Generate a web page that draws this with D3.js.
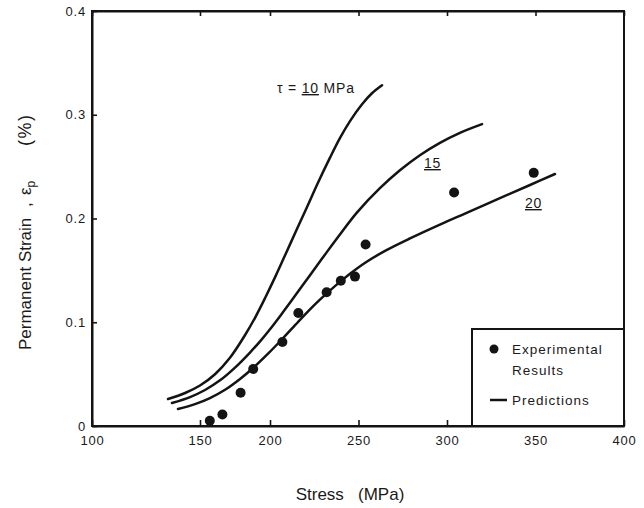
<!DOCTYPE html>
<html>
<head>
<meta charset="utf-8">
<script src="https://cdn.jsdelivr.net/npm/d3@7"></script>
<style>
  html, body { margin: 0; padding: 0; background: #fff; }
  svg { display: block; font-family: "Liberation Sans", Arial, Helvetica, sans-serif; }
  text { fill: #1a1a1a; }
</style>
</head>
<body>
<svg id="chart" width="644" height="508"></svg>
<script>
// ---- data ----
const xTicks = [100, 150, 200, 250, 300, 350, 400];
const xTickLabels = ["100", "150", "200", "250", "300", "350", "400"];
const yTicks = [0, 0.1, 0.2, 0.3, 0.4];
const yTickLabels = ["0", "0.1", "0.2", "0.3", "0.4"];

// experimental results (stress MPa, permanent strain %)
const expStress = [157, 166, 179, 188, 207, 216, 232, 240, 248, 254, 304, 349];
const expStrain = [0.005, 0.011, 0.032, 0.055, 0.081, 0.109, 0.129, 0.140, 0.144, 0.175, 0.225, 0.244];

// predictions, tau = 10 MPa
const pred10Stress = [135.2, 143.1, 150, 160.7, 171.4, 182.1, 189.3, 196.4, 203.4, 209.6, 215.8, 221.5, 227.1, 233.9, 239.5, 245.2, 252, 257.6, 263.3];
const pred10Strain = [0.026, 0.0318, 0.039, 0.0499, 0.0658, 0.0875, 0.1043, 0.1231, 0.1454, 0.1687, 0.192, 0.2133, 0.2345, 0.2587, 0.2775, 0.2939, 0.3101, 0.3207, 0.3284];
// tau = 15 MPa
const pred15Stress = [137, 145.4, 153.6, 164.3, 175, 185.7, 192.9, 200, 206.2, 212.4, 222.6, 231.1, 239.5, 249.2, 262.1, 273.4, 284.7, 296, 307.3, 319.8];
const pred15Strain = [0.0222, 0.0279, 0.0347, 0.044, 0.0563, 0.0708, 0.0816, 0.0933, 0.1071, 0.1214, 0.1454, 0.1653, 0.1846, 0.2059, 0.2292, 0.2465, 0.261, 0.2729, 0.2826, 0.291];
// tau = 20 MPa
const pred20Stress = [139.8, 147.7, 157.1, 167.9, 178.6, 187.9, 198.6, 206.8, 215.8, 222.6, 228.2, 236.7, 245.2, 254.2, 265, 279.1, 296, 313, 329.9, 346.9, 361];
const pred20Strain = [0.0164, 0.0211, 0.0269, 0.0349, 0.0453, 0.0559, 0.0697, 0.0836, 0.1002, 0.1124, 0.1218, 0.1348, 0.1467, 0.1578, 0.1688, 0.1808, 0.1941, 0.2068, 0.2196, 0.2323, 0.2429];

const seriesLabels = ["10", "15", "20"];
const legendLabels = ["Experimental", "Results", "Predictions"];

// ---- layout ----
const svg = d3.select("#chart");
const L = 92, R = 624, T = 11, B = 426;
// the scanned axis places its 150 tick off the even spacing; follow the printed ticks
const xBreak = [100, 150, 200, 400];
const xBreakFrac = [0, 0.203, 0.3346, 1];
const x = d3.scaleLinear().domain(xBreak).range(xBreakFrac.map(f => L + f * (R - L)));
const y = d3.scaleLinear().domain([0, 0.4]).range([B, T]);

const ink = "#141414";

// frame
svg.append("rect").attr("x", L).attr("y", T).attr("width", R - L).attr("height", B - T)
  .attr("fill", "none").attr("stroke", ink).attr("stroke-width", 2);

// bottom axis
const xAxis = d3.axisBottom(x).tickValues(xTicks).tickFormat((d, i) => xTickLabels[i])
  .tickSizeInner(-6).tickSizeOuter(0).tickPadding(10);
const gx = svg.append("g").attr("transform", `translate(0,${B})`).call(xAxis);
gx.select(".domain").attr("stroke", ink).attr("stroke-width", 2);
gx.selectAll(".tick line").attr("stroke", ink).attr("stroke-width", 1.6);
gx.selectAll(".tick text").attr("font-size", 13).attr("letter-spacing", 0.8).attr("fill", "#1a1a1a")
  .attr("font-family", "'Liberation Sans', Arial, sans-serif");

// top ticks
const xTop = d3.axisTop(x).tickValues(xTicks).tickFormat("").tickSizeInner(-5).tickSizeOuter(0);
const gt = svg.append("g").attr("transform", `translate(0,${T})`).call(xTop);
gt.select(".domain").attr("stroke", ink).attr("stroke-width", 2);
gt.selectAll(".tick line").attr("stroke", ink).attr("stroke-width", 1.6);

// left axis
const yAxis = d3.axisLeft(y).tickValues(yTicks).tickFormat((d, i) => yTickLabels[i])
  .tickSizeInner(-5).tickSizeOuter(0).tickPadding(6);
const gy = svg.append("g").attr("transform", `translate(${L},0)`).call(yAxis);
gy.select(".domain").attr("stroke", ink).attr("stroke-width", 2);
gy.selectAll(".tick line").attr("stroke", ink).attr("stroke-width", 1.6);
gy.selectAll(".tick text").attr("font-size", 13).attr("letter-spacing", 0.8).attr("fill", "#1a1a1a")
  .attr("font-family", "'Liberation Sans', Arial, sans-serif");

// prediction curves
const line = d3.line().x(d => x(d[0])).y(d => y(d[1])).curve(d3.curveCatmullRom.alpha(0.5));
const curves = [
  d3.zip(pred10Stress, pred10Strain),
  d3.zip(pred15Stress, pred15Strain),
  d3.zip(pred20Stress, pred20Strain)
];
svg.append("g").selectAll("path").data(curves).join("path")
  .attr("d", line).attr("fill", "none").attr("stroke", ink)
  .attr("stroke-width", 2.5).attr("stroke-linecap", "round");

// experimental points
svg.append("g").selectAll("circle").data(d3.zip(expStress, expStrain)).join("circle")
  .attr("cx", d => x(d[0])).attr("cy", d => y(d[1])).attr("r", 5).attr("fill", ink);

// curve labels
const lab10 = svg.append("text").attr("x", 277).attr("y", 93).attr("font-size", 14).attr("letter-spacing", 0.8);
lab10.append("tspan").text("τ = ");
lab10.append("tspan").attr("text-decoration", "underline").text(seriesLabels[0]);
lab10.append("tspan").text(" MPa");

svg.append("text").attr("x", 424).attr("y", 168).attr("font-size", 14).attr("letter-spacing", 0.6)
  .attr("text-decoration", "underline").text(seriesLabels[1]);
svg.append("text").attr("x", 525).attr("y", 208).attr("font-size", 14).attr("letter-spacing", 0.6)
  .attr("text-decoration", "underline").text(seriesLabels[2]);

// legend
const lg = svg.append("g");
lg.append("rect").attr("x", 472).attr("y", 329).attr("width", R - 472).attr("height", B - 329)
  .attr("fill", "#fff").attr("stroke", ink).attr("stroke-width", 2);
lg.append("circle").attr("cx", 494).attr("cy", 349).attr("r", 4.5).attr("fill", ink);
lg.append("text").attr("x", 512).attr("y", 354).attr("font-size", 13.5).attr("letter-spacing", 1).text(legendLabels[0]);
lg.append("text").attr("x", 512).attr("y", 375).attr("font-size", 13.5).attr("letter-spacing", 1).text(legendLabels[1]);
lg.append("line").attr("x1", 490).attr("x2", 507).attr("y1", 400).attr("y2", 400).attr("stroke", ink).attr("stroke-width", 2.5);
lg.append("text").attr("x", 512).attr("y", 405).attr("font-size", 13.5).attr("letter-spacing", 1).text(legendLabels[2]);
svg.append("line").attr("x1", 472).attr("x2", R).attr("y1", B).attr("y2", B).attr("stroke", ink).attr("stroke-width", 2);

// axis titles
svg.append("text").attr("x", 350).attr("y", 500).attr("text-anchor", "middle").attr("font-size", 17)
  .style("white-space", "pre").text("Stress   (MPa)");

const yt = svg.append("text").attr("transform", "translate(31,350) rotate(-90)").attr("font-size", 17);
yt.append("tspan").attr("x", 0).text("Permanent Strain");
yt.append("tspan").attr("x", 143).text(",");
yt.append("tspan").attr("x", 155).text("ε");
yt.append("tspan").attr("dy", 4).attr("font-size", 12).text("p");
yt.append("tspan").attr("x", 204).attr("dy", -4).attr("font-size", 18).attr("letter-spacing", 1.5).text("(%)");
</script>
</body>
</html>
